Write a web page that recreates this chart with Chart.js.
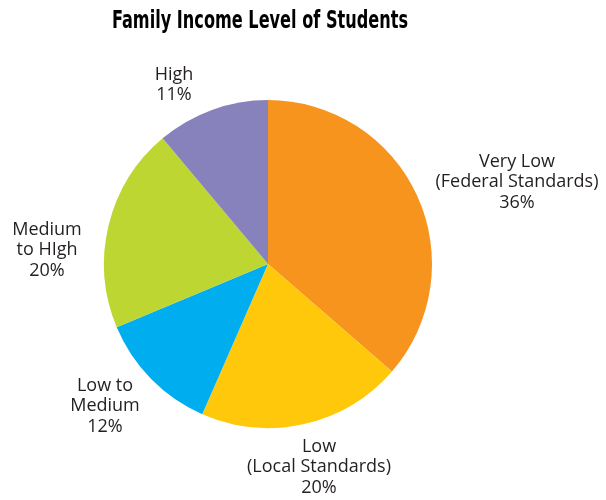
<!DOCTYPE html>
<html>
<head>
<meta charset="utf-8">
<script src="https://cdn.jsdelivr.net/npm/chart.js@4"></script>
<style>
  html, body { margin: 0; padding: 0; background: #fff; }
  #wrap { width: 606px; height: 500px; }
</style>
</head>
<body>
<div id="wrap"><canvas id="incomeChart" width="606" height="500"></canvas></div>
<script>
// income groups, clockwise from 12 o'clock
const categories = [
    ['Very Low', '(Federal Standards)'],
    ['Low', '(Local Standards)'],
    ['Low to', 'Medium'],
    ['Medium', 'to HIgh'],
    ['High']
];
const shares = [36, 20, 12, 20, 11];
const colors = ['#F7941E', '#FFC80B', '#00AEEF', '#BED631', '#8782BC'];

// where each label block sits, relative to the pie centre
const labelOffsets = [[249, -82], [51, 203], [-163, 142], [-221, -14], [-94, -179]];

const chartTitle = 'Family Income Level of Students';

// slice labels drawn outside the pie
const outsideLabels = {
    id: 'outsideLabels',
    afterDatasetsDraw(chart) {
        const ctx = chart.ctx;
        ctx.save();
        ctx.fillStyle = '#231F20';
        ctx.font = '18px "Open Sans"';
        ctx.textAlign = 'center';
        ctx.textBaseline = 'middle';
        const lineH = 20.5;
        chart.getDatasetMeta(0).data.forEach((arc, i) => {
            const lines = categories[i].concat([shares[i] + '%']);
            const cx = arc.x + labelOffsets[i][0];
            const cy = arc.y + labelOffsets[i][1];
            const top = cy - (lines.length - 1) * lineH / 2;
            lines.forEach((t, j) => ctx.fillText(t, cx, top + j * lineH));
        });
        ctx.restore();
    }
};

// condensed bold title, squeezed to width
const condensedTitle = {
    id: 'condensedTitle',
    afterDraw(chart) {
        const ctx = chart.ctx;
        ctx.save();
        ctx.fillStyle = '#000';
        ctx.font = 'bold 25px "Liberation Sans Narrow", "DejaVu Sans Condensed", sans-serif';
        ctx.textBaseline = 'middle';
        ctx.textAlign = 'center';
        const w = ctx.measureText(chartTitle).width;
        ctx.translate(260, 21);
        ctx.scale(296 / w, 1);
        ctx.fillText(chartTitle, 0, 0);
        ctx.restore();
    }
};

new Chart(document.getElementById('incomeChart'), {
    type: 'pie',
    data: {
        labels: categories.map(c => c.join(' ')),
        datasets: [{
            data: shares,
            backgroundColor: colors,
            borderWidth: 0
        }]
    },
    options: {
        responsive: false,
        animation: false,
        layout: { padding: { top: 100, bottom: 72, left: 104, right: 174 } },
        plugins: {
            legend: { display: false },
            tooltip: { enabled: false }
        }
    },
    plugins: [outsideLabels, condensedTitle]
});
</script>
</body>
</html>
